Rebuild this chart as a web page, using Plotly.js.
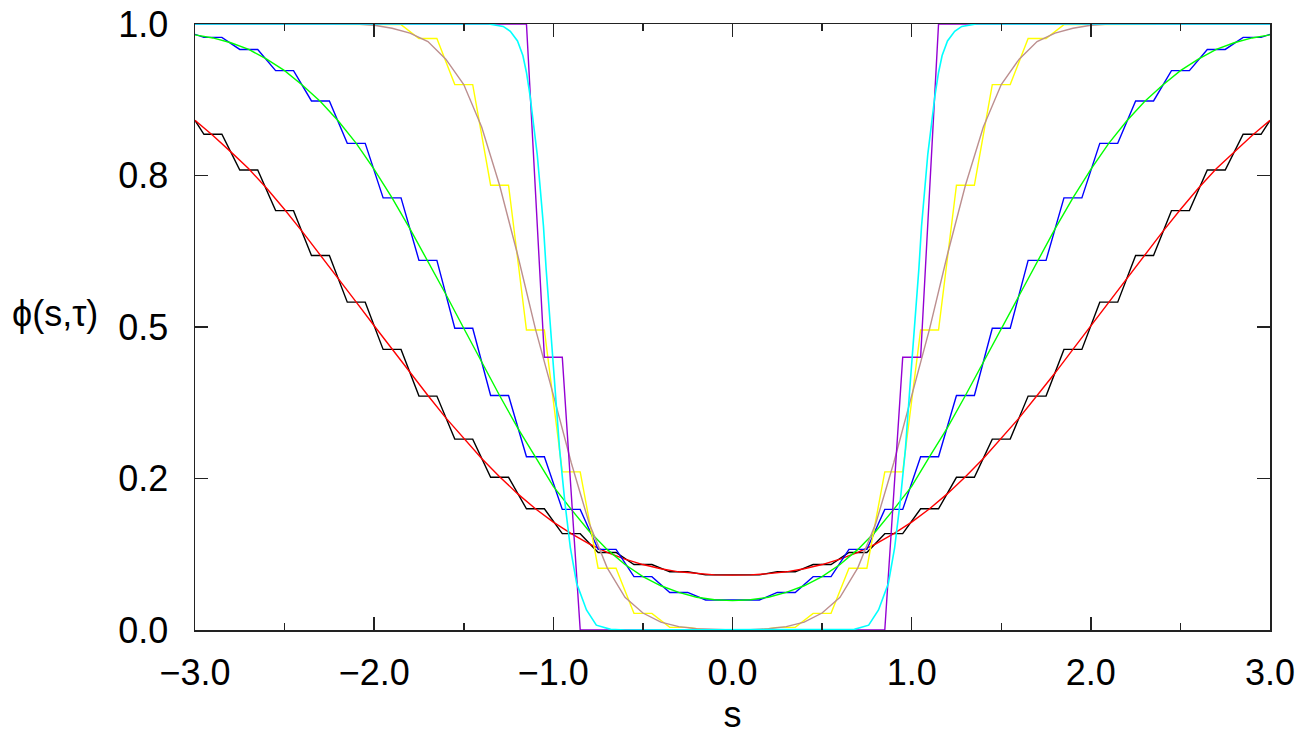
<!DOCTYPE html>
<html>
<head>
<meta charset="utf-8">
<script src="https://cdn.plot.ly/plotly-3.0.1.min.js"></script>
<style>html,body{margin:0;padding:0;background:#fff;}#chart{width:1312px;height:735px;}</style>
</head>
<body>
<div id="chart"></div>
<script>
// ---- data ----
// cell centres of the coarse (odd-tenth) staircase solutions
const oddCenters = [-2.9,-2.7,-2.5,-2.3,-2.1,-1.9,-1.7,-1.5,-1.3,-1.1,-0.9,-0.7,-0.5,-0.3,-0.1,
                     0.1,0.3,0.5,0.7,0.9,1.1,1.3,1.5,1.7,1.9,2.1,2.3,2.5,2.7,2.9];
// cell centres of the violet staircase (even tenths)
const evenCenters = [-3.0,-2.8,-2.6,-2.4,-2.2,-2.0,-1.8,-1.6,-1.4,-1.2,-1.0,-0.8,-0.6,-0.4,-0.2,0.0,
                      0.2,0.4,0.6,0.8,1.0,1.2,1.4,1.6,1.8,2.0,2.2,2.4,2.6,2.8,3.0];

const blackCells  = [0.818,0.759,0.692,0.618,0.541,0.463,0.386,0.315,0.252,0.200,0.159,0.128,0.108,0.096,0.091,
                     0.091,0.096,0.108,0.128,0.159,0.200,0.252,0.315,0.386,0.463,0.541,0.618,0.692,0.759,0.818];
const blackEdge = 0.841;
const blueCells   = [0.978,0.958,0.923,0.873,0.803,0.713,0.610,0.498,0.387,0.286,0.199,0.133,0.088,0.062,0.0495,
                     0.0495,0.062,0.088,0.133,0.199,0.286,0.387,0.498,0.610,0.713,0.803,0.873,0.923,0.958,0.978];
const blueEdge = 0.983;
const yellowCells = [1,1,1,1,1,0.999,0.976,0.900,0.734,0.495,0.261,0.102,0.0275,0.0044,0,
                     0,0.0044,0.0275,0.102,0.261,0.495,0.734,0.900,0.976,0.999,1,1,1,1,1];
const yellowEdge = 1.0;
const violetCells = [1,1,1,1,1,1,1,1,1,1,0.45,0,0,0,0,0,0,0,0,0,0.45,1,1,1,1,1,1,1,1,1,1];

// smooth curves sampled every 0.1 in s
const gridS = [-3.0,-2.9,-2.8,-2.7,-2.6,-2.5,-2.4,-2.3,-2.2,-2.1,-2.0,-1.9,-1.8,-1.7,-1.6,-1.5,-1.4,-1.3,-1.2,-1.1,
               -1.0,-0.9,-0.8,-0.7,-0.6,-0.5,-0.4,-0.3,-0.2,-0.1,0.0,0.1,0.2,0.3,0.4,0.5,0.6,0.7,0.8,0.9,
               1.0,1.1,1.2,1.3,1.4,1.5,1.6,1.7,1.8,1.9,2.0,2.1,2.2,2.3,2.4,2.5,2.6,2.7,2.8,2.9,3.0];
const redVals = [0.841,0.816,0.789,0.761,0.729,0.694,0.657,0.619,0.580,0.541,0.502,0.463,0.424,0.387,0.350,0.316,
                 0.283,0.253,0.225,0.200,0.178,0.159,0.142,0.128,0.117,0.108,0.101,0.096,0.093,0.091,0.0905,
                 0.091,0.093,0.096,0.101,0.108,0.117,0.128,0.142,0.159,0.178,0.200,0.225,0.253,0.283,0.316,
                 0.350,0.387,0.424,0.463,0.502,0.541,0.580,0.619,0.657,0.694,0.729,0.761,0.789,0.816,0.841];
const greenVals = [0.982,0.977,0.969,0.958,0.942,0.923,0.899,0.872,0.840,0.803,0.760,0.713,0.662,0.609,0.554,0.498,
                   0.442,0.387,0.334,0.286,0.237,0.199,0.163,0.133,0.108,0.088,0.073,0.062,0.054,0.050,0.0485,
                   0.050,0.054,0.062,0.073,0.088,0.108,0.133,0.163,0.199,0.237,0.286,0.334,0.387,0.442,0.498,
                   0.554,0.609,0.662,0.713,0.760,0.803,0.840,0.872,0.899,0.923,0.942,0.958,0.969,0.977,0.982];
const tanVals = [1,1,1,1,1,1,1,1,1,1,0.998,0.993,0.985,0.971,0.942,0.900,0.830,0.734,0.620,0.497,
                 0.388,0.276,0.176,0.103,0.054,0.028,0.013,0.0055,0.002,0.0005,0,
                 0.0005,0.002,0.0055,0.013,0.028,0.054,0.103,0.176,0.276,0.388,
                 0.497,0.620,0.734,0.830,0.900,0.942,0.971,0.985,0.993,0.998,1,1,1,1,1,1,1,1,1,1];

// steep smooth curve (cyan), non-uniform samples
const cyanS = [-3.0,-1.36,-1.28,-1.24,-1.20,-1.17,-1.15,-1.13,-1.11,-1.09,-1.075,-1.055,-1.04,-1.02,-0.99,-0.965,
               -0.935,-0.905,-0.87,-0.815,-0.76,-0.68,-0.6,0.0,0.6,0.68,0.76,0.815,0.87,0.905,0.935,0.965,0.99,
               1.02,1.04,1.055,1.075,1.09,1.11,1.13,1.15,1.17,1.20,1.24,1.28,1.36,3.0];
const cyanVals = [1,1,0.996,0.988,0.972,0.948,0.920,0.882,0.833,0.785,0.735,0.666,0.595,0.512,0.400,0.298,
                  0.209,0.136,0.077,0.033,0.008,0.001,0,0,0,0.001,0.008,0.033,0.077,0.136,0.209,0.298,0.400,
                  0.512,0.595,0.666,0.735,0.785,0.833,0.882,0.920,0.948,0.972,0.988,0.996,1,1];

const xTickVals = [-3,-2,-1,0,1,2,3];
const xTickText = ['\u22123.0','\u22122.0','\u22121.0','0.0','1.0','2.0','3.0'];
const xMinorVals = [-2.5,-1.5,-0.5,0.5,1.5,2.5];
const yTickVals = [0,0.25,0.5,0.75,1.0];
const yTickText = ['0.0','0.2','0.5','0.8','1.0'];

// ---- build staircase polylines (flat over the middle half of each cell) ----
function stairs(centers, vals, edgeL, edgeR) {
  const xs = [], ys = [];
  if (edgeL !== undefined) { xs.push(-3); ys.push(edgeL); }
  centers.forEach((c, i) => { xs.push(c - 0.05, c + 0.05); ys.push(vals[i], vals[i]); });
  if (edgeR !== undefined) { xs.push(3); ys.push(edgeR); }
  return {x: xs, y: ys};
}
const FONT = 'Liberation Sans, Arial, Helvetica, sans-serif';
const LW = 1.4;
function tr(d, color, w) {
  return {x: d.x, y: d.y, type: 'scatter', mode: 'lines', hoverinfo: 'skip',
          line: {color: color, width: w || LW, shape: 'linear'}};
}
const sBlack = stairs(oddCenters, blackCells, blackEdge, blackEdge);
const sBlue = stairs(oddCenters, blueCells, blueEdge, blueEdge);
const sYellow = stairs(oddCenters, yellowCells, yellowEdge, yellowEdge);
const sViolet = stairs(evenCenters, violetCells);

const traces = [
  tr(sBlack, '#000000'),
  tr({x: gridS, y: redVals}, '#ff0000'),
  tr(sBlue, '#0000ff'),
  tr({x: gridS, y: greenVals}, '#00ff00'),
  tr(sYellow, '#ffff00'),
  tr({x: gridS, y: tanVals}, '#bc8f8f'),
  tr(sViolet, '#9400d3'),
  tr({x: cyanS, y: cyanVals}, '#00ffff', 1.6)
];

const axisCommon = {
  showgrid: false, zeroline: false, showline: true, linecolor: '#222', linewidth: 1.5,
  mirror: 'ticks', ticks: 'inside', ticklen: 13, tickwidth: 1.5, tickcolor: '#222',
  tickfont: {family: FONT, size: 36, color: '#000'}, fixedrange: true
};
const layout = {
  width: 1312, height: 735,
  margin: {l: 195, r: 42, t: 24, b: 105},
  paper_bgcolor: '#ffffff', plot_bgcolor: '#ffffff',
  showlegend: false,
  font: {family: FONT, color: '#000'},
  xaxis: Object.assign({}, axisCommon, {
    range: [-3, 3], tickmode: 'array', tickvals: xTickVals, ticktext: xTickText,
    minor: {tickmode: 'array', tickvals: xMinorVals, ticks: 'inside', ticklen: 7, tickwidth: 1.5, tickcolor: '#222'},
    ticklabelstandoff: 10,
    title: {text: 's', font: {family: FONT, size: 36, color: '#000'}, standoff: 10}
  }),
  yaxis: Object.assign({}, axisCommon, {
    range: [0, 1], tickmode: 'array', tickvals: yTickVals, ticktext: yTickText,
    ticklabelstandoff: 18
  }),
  annotations: [{
    text: '\u03d5(s,\u03c4)', xref: 'paper', yref: 'paper', x: -0.172, y: 0.523,
    xanchor: 'left', yanchor: 'middle', showarrow: false,
    font: {family: FONT, size: 36, color: '#000'}
  }]
};
Plotly.newPlot('chart', traces, layout, {staticPlot: true, displayModeBar: false});
</script>
</body>
</html>
